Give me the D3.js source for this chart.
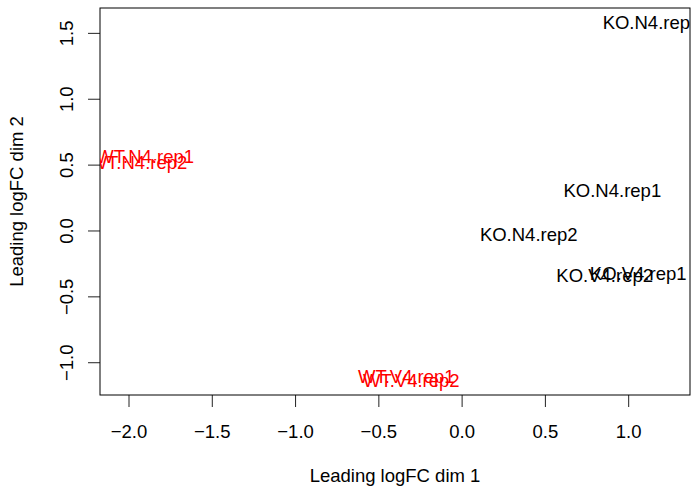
<!DOCTYPE html>
<html>
<head>
<meta charset="utf-8">
<script src="https://cdn.jsdelivr.net/npm/d3@7"></script>
<style>
html,body{margin:0;padding:0;background:#fff;}
svg{display:block;font-family:"Liberation Sans",Arial,sans-serif;}
</style>
</head>
<body>
<svg id="chart" width="691" height="489"></svg>
<script>
// Sample labels, colours and MDS coordinates
const labels = ["KO.N4.rep1","KO.N4.rep2","KO.N4.rep3","KO.V4.rep1","KO.V4.rep2","WT.N4.rep1","WT.N4.rep2","WT.V4.rep1","WT.V4.rep2"];
const groupColors = ["black","black","black","black","black","red","red","red","red"];
const dim1 = [0.905, 0.403, 1.14, 1.06, 0.859, -1.90, -1.94, -0.332, -0.302];
const dim2 = [0.303, -0.03, 1.58, -0.326, -0.341, 0.565, 0.52, -1.108, -1.14];
const xTicks = [-2.0, -1.5, -1.0, -0.5, 0.0, 0.5, 1.0];
const yTicks = [-1.0, -0.5, 0.0, 0.5, 1.0, 1.5];
const xLabel = "Leading logFC dim 1";
const yLabel = "Leading logFC dim 2";

(function(){
const svg = d3.select("#chart");
const mL = 100, mR = 690, mT = 8, mB = 395;
const fs = 18.5;

// R-like ranges: limma extends x by a label radius, then 4% padding
const radius = labels.map(l => 0.01 * l.length);
const xmin = d3.min(dim1.map((v,i) => v - radius[i]));
const xmax = d3.max(dim1.map((v,i) => v + radius[i]));
const ymin = d3.min(dim2), ymax = d3.max(dim2);
const px = 0.04 * (xmax - xmin), py = 0.04 * (ymax - ymin);

const x = d3.scaleLinear().domain([xmin - px, xmax + px]).range([mL, mR]);
const y = d3.scaleLinear().domain([ymin - py, ymax + py]).range([mB, mT]);

svg.append("defs").append("clipPath").attr("id","clip")
  .append("rect").attr("x",mL).attr("y",mT).attr("width",mR-mL).attr("height",mB-mT);

// Axes
const xAxis = d3.axisBottom(x).tickValues(xTicks).tickFormat(d3.format(".1f")).tickSize(12).tickPadding(0);
const gx = svg.append("g").attr("transform",`translate(0,${mB})`).call(xAxis);
gx.select(".domain").remove();
gx.selectAll(".tick line").attr("stroke","#222");
gx.selectAll(".tick text").attr("dy", null)
  .attr("y", 42.7).attr("font-size", fs).attr("font-family","Liberation Sans, Arial, sans-serif").attr("fill","#000");

const yAxis = d3.axisLeft(y).tickValues(yTicks).tickFormat(d3.format(".1f")).tickSize(12).tickPadding(0);
const gy = svg.append("g").attr("transform",`translate(${mL},0)`).call(yAxis);
gy.select(".domain").remove();
gy.selectAll(".tick line").attr("stroke","#222");
gy.selectAll(".tick text").attr("dy", null)
  .attr("text-anchor","middle")
  .attr("transform","translate(-27.5,0) rotate(-90)")
  .attr("x",0).attr("y",0)
  .attr("font-size", fs).attr("font-family","Liberation Sans, Arial, sans-serif").attr("fill","#000");

// Box
svg.append("rect").attr("x",mL).attr("y",mT).attr("width",mR-mL).attr("height",mB-mT)
  .attr("fill","none").attr("stroke","#000").attr("stroke-width",1);

// Axis titles
svg.append("text").attr("x",(mL+mR)/2).attr("y",482).attr("text-anchor","middle")
  .attr("font-size",fs).attr("fill","#000").text(xLabel);
svg.append("text").attr("transform",`translate(23.3,${(mT+mB)/2}) rotate(-90)`).attr("text-anchor","middle")
  .attr("font-size",fs).attr("fill","#000").text(yLabel);

// Sample labels
svg.append("g").attr("clip-path","url(#clip)")
  .selectAll("text").data(labels).join("text")
  .attr("x",(d,i) => x(dim1[i]))
  .attr("y",(d,i) => y(dim2[i]))
  .attr("dy","0.36em")
  .attr("text-anchor","middle")
  .attr("font-size",fs)
  .attr("fill",(d,i) => groupColors[i] === "red" ? "#ff0000" : "#000000")
  .text(d => d);
})();
</script>
</body>
</html>
